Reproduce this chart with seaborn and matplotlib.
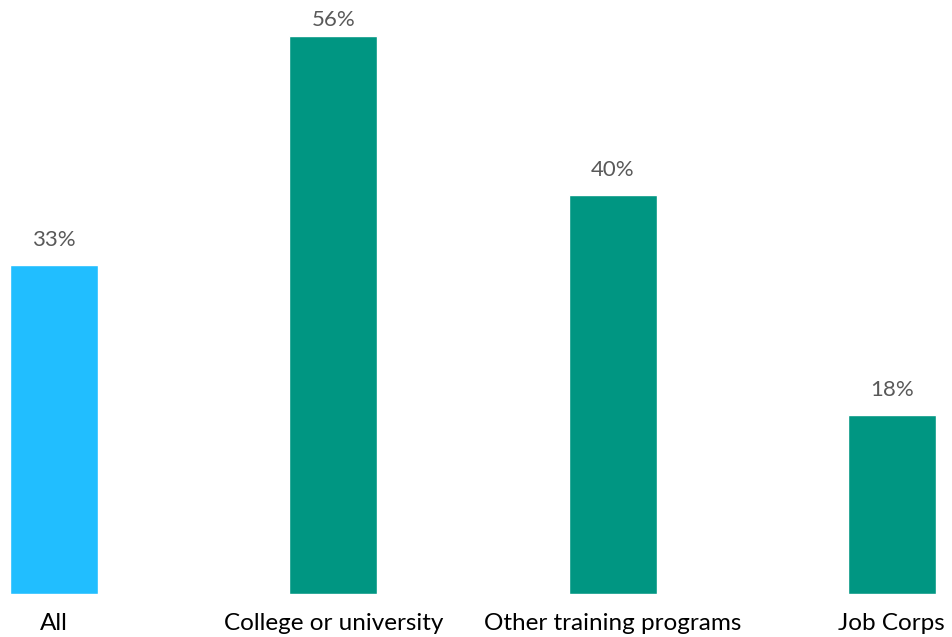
import matplotlib
matplotlib.use("Agg")
import matplotlib.pyplot as plt
import seaborn as sns
import pandas as pd

categories = ["All", "College or university", "Other training programs", "Job Corps"]
values = [33, 56, 40, 18]
bar_colors = ["#21BEFF", "#009682", "#009682", "#009682"]

sns.set_theme(style="white")
plt.rcParams["font.family"] = ["Lato", "DejaVu Sans"]

df = pd.DataFrame({"category": categories, "value": values})

fig = plt.figure(figsize=(9.53, 6.37), dpi=100)
ax = fig.add_axes([0, 1 - 594 / 637, 1, 594 / 637])

sns.barplot(data=df, x="category", y="value", hue="category", palette=bar_colors,
            width=0.315, saturation=1, legend=False, ax=ax)

ymax = 59.6
for i, v in enumerate(values):
    # keep labels inside the plotting area
    y = min(v + 2.5, ymax - 2.0)
    ax.text(i, y, f"{v}%", ha="center", va="center", fontsize=16, color="#595959")

ax.set_xlim(-0.194, 3.219)
ax.set_ylim(0, ymax)
ax.set_xlabel("")
ax.set_ylabel("")
ax.set_yticks([])
ax.tick_params(axis="x", length=0, pad=14, labelsize=17.5, labelcolor="black")
for s in ax.spines.values():
    s.set_visible(False)

fig.savefig("out.png", dpi=100)
